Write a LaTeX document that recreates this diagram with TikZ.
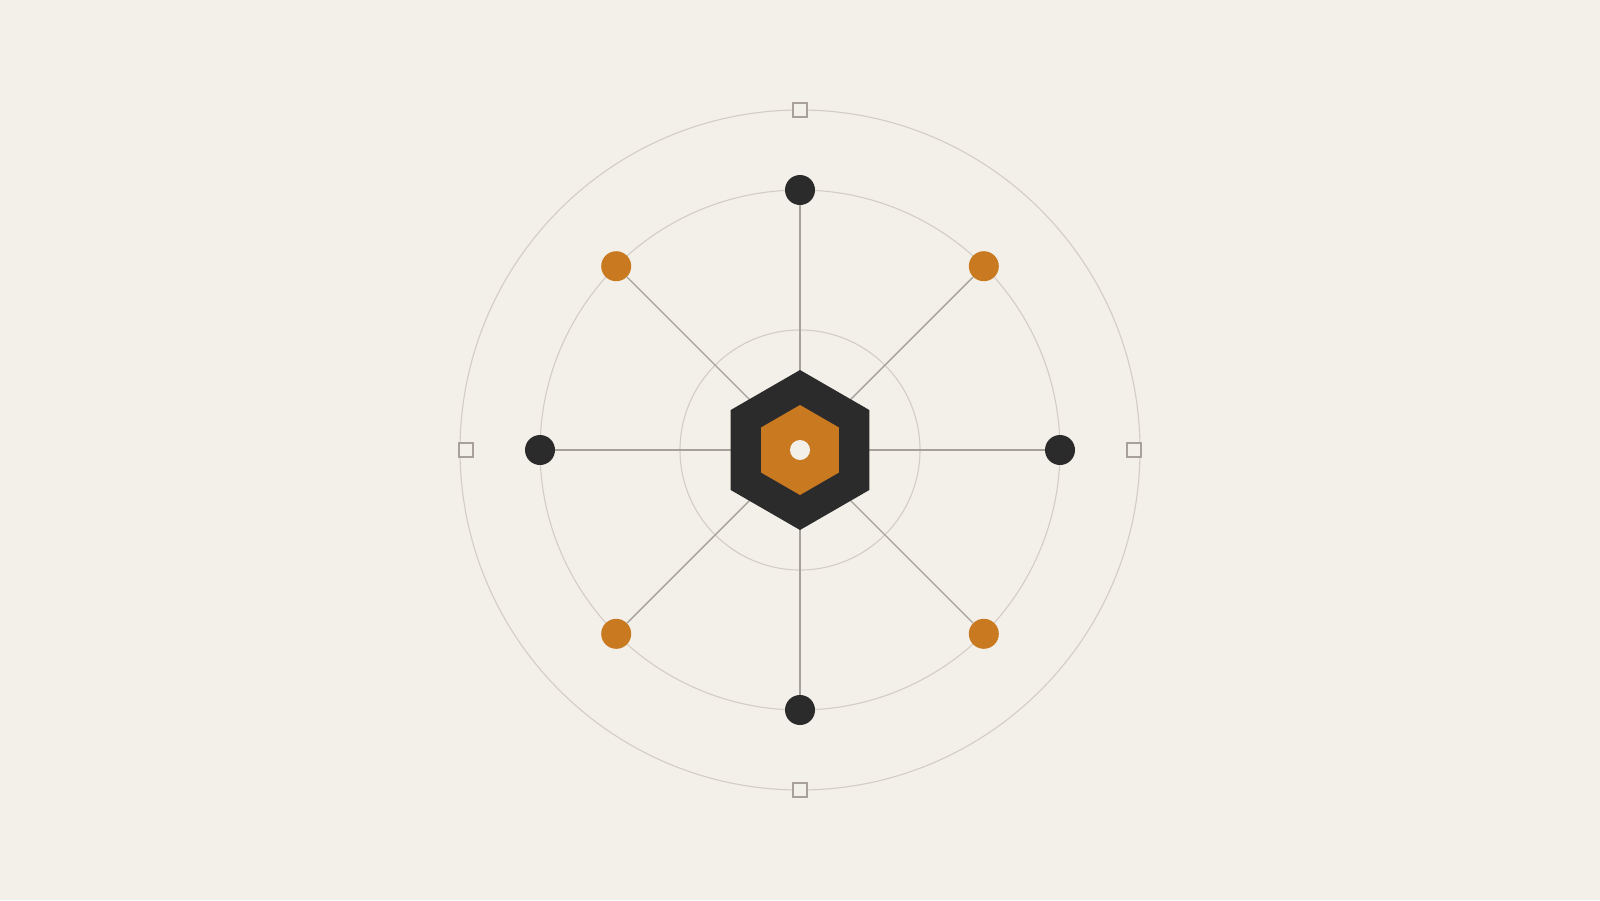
\documentclass[tikz,border=0pt]{standalone}
\usetikzlibrary{calc}
\definecolor{bg}{HTML}{F3EFE9}
\definecolor{dark}{HTML}{2B2B2B}
\definecolor{amber}{HTML}{C97A20}
\definecolor{ring}{HTML}{D3CDC6}
\definecolor{spoke}{HTML}{A7A19A}
\tikzset{
  ringline/.style={draw=ring, line width=0.55pt},
  spokeline/.style={draw=spoke, line width=0.7pt},
  darkdot/.style={circle, fill=dark, inner sep=0pt, minimum size=15pt},
  amberdot/.style={circle, fill=amber, inner sep=0pt, minimum size=15pt},
  marker/.style={rectangle, draw=spoke, line width=0.8pt, inner sep=0pt, minimum size=7pt, fill=bg}
}
\begin{document}
\begin{tikzpicture}[x=0.5pt,y=-0.5pt]
\fill[bg] (0,0) rectangle (1600,900);
\useasboundingbox (0,0) rectangle (1600,900);
\coordinate (c) at (800,450);
% rings
\draw[ringline] (c) circle[radius=60pt];
\draw[ringline] (c) circle[radius=130pt];
\draw[ringline] (c) circle[radius=170pt];
% markers on outer ring
\node[marker] (mt) at (800,110) {};
\node[marker] (mb) at (800,790) {};
\node[marker] (ml) at (466,450) {};
\node[marker] (mr) at (1134,450) {};
% dots
\node[darkdot] (dn) at (800,190) {};
\node[darkdot] (ds) at (800,710) {};
\node[darkdot] (dw) at (540,450) {};
\node[darkdot] (de) at (1060,450) {};
\node[amberdot] (dnw) at (616.2,266.2) {};
\node[amberdot] (dne) at (983.8,266.2) {};
\node[amberdot] (dsw) at (616.2,633.8) {};
\node[amberdot] (dse) at (983.8,633.8) {};
% spokes
\foreach \d in {dn,ds,dw,de,dnw,dne,dsw,dse}{
  \draw[spokeline] (c) -- (\d);
}
% central hexagons
\fill[dark] ($(c)+(90:40pt)$) -- ($(c)+(150:40pt)$) -- ($(c)+(210:40pt)$) -- ($(c)+(270:40pt)$) -- ($(c)+(330:40pt)$) -- ($(c)+(30:40pt)$) -- cycle;
\fill[amber] ($(c)+(90:22.5pt)$) -- ($(c)+(150:22.5pt)$) -- ($(c)+(210:22.5pt)$) -- ($(c)+(270:22.5pt)$) -- ($(c)+(330:22.5pt)$) -- ($(c)+(30:22.5pt)$) -- cycle;
\node[circle, fill=bg, inner sep=0pt, minimum size=10pt] (hub) at (c) {};
\end{tikzpicture}
\end{document}
